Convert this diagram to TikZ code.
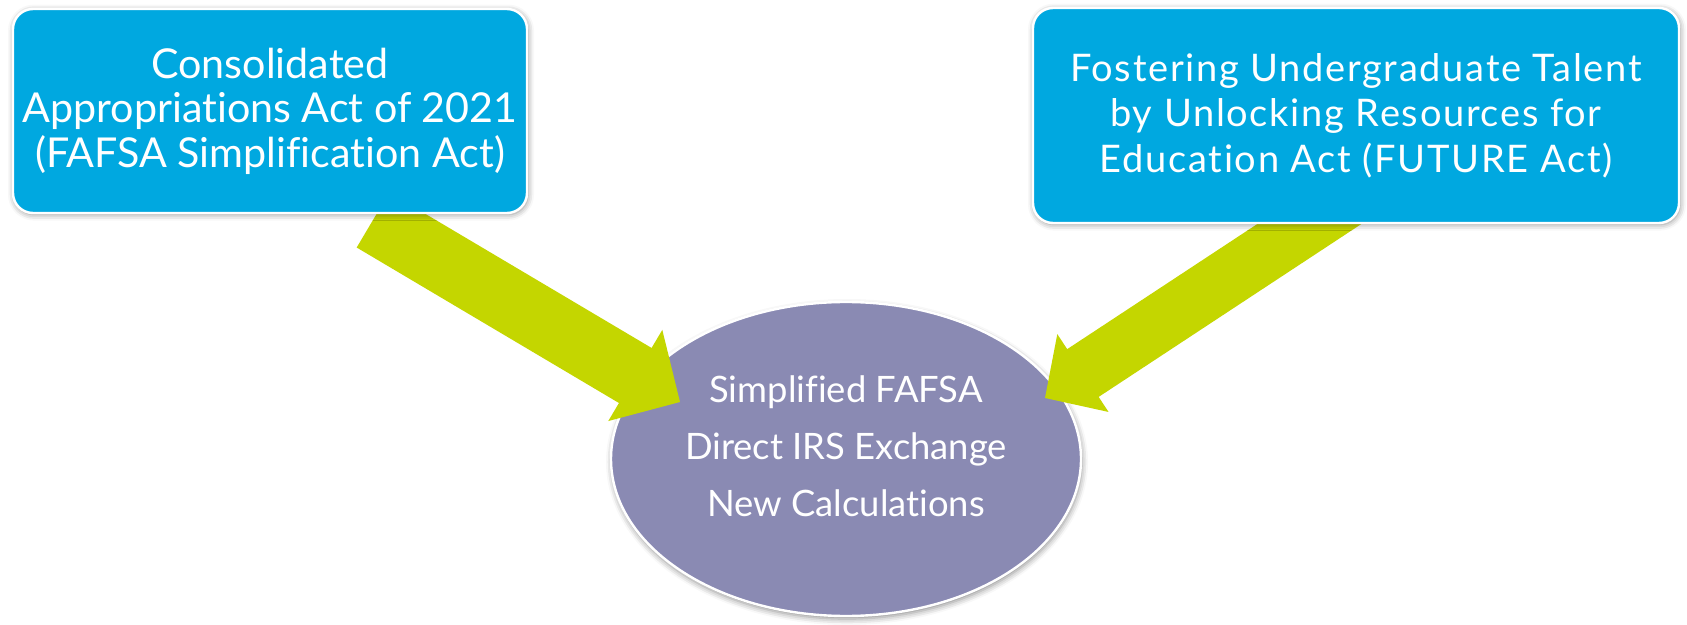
\documentclass[tikz,border=0pt]{standalone}
\usepackage{fontspec}
\setmainfont{Lato}[Ligatures=NoCommon]
\newfontfamily\spacedfont{Lato}[Ligatures=NoCommon,LetterSpace=4.5]
\usetikzlibrary{shapes.geometric,calc,shadows.blur}
\definecolor{boxblue}{RGB}{0,168,224}
\definecolor{limegreen}{RGB}{196,214,0}
\definecolor{lavender}{RGB}{138,138,179}
\begin{document}
\begin{tikzpicture}[x=0.5pt,y=-0.5pt,
  actbox/.style={rectangle, rounded corners=10pt, fill=boxblue, draw=white,
    line width=1.2pt, text=white, align=center, inner sep=0pt,
    blur shadow={shadow xshift=0.5pt, shadow yshift=-0.8pt, shadow blur radius=3pt, shadow opacity=45}},
  resell/.style={ellipse, fill=lavender, draw=white, line width=1.2pt, inner sep=0pt,
    minimum width=235pt, minimum height=157pt,
    blur shadow={shadow xshift=0.5pt, shadow yshift=-1.5pt, shadow blur radius=3pt, shadow opacity=45}},
  restext/.style={text=white, align=center, font=\fontsize{18.2}{28.5}\selectfont},
  bigarrow/.style={fill=limegreen, draw=none}]
\useasboundingbox (0,0) rectangle (1687,625);

% result ellipse
\node[resell] (res) at (846,459) {};
\node[restext] (restxt) at (846,446) {Simplified FAFSA\\Direct IRS Exchange\\New Calculations};

% left arrow
\coordinate (lt) at (373,220);
\coordinate (lp) at (680,402);
\coordinate (lh) at ($(lp)!26pt!(lt)$);
\fill[bigarrow] ($(lt)!16pt!90:(lp)$) -- ($(lh)!16pt!-90:(lt)$) -- ($(lh)!26.5pt!-90:(lt)$)
  -- (lp) -- ($(lh)!26.5pt!90:(lt)$) -- ($(lh)!16pt!90:(lt)$) -- ($(lt)!16pt!-90:(lp)$) -- cycle;

% right arrow
\coordinate (rt) at (1361,190);
\coordinate (rp) at (1045,398);
\coordinate (rh) at ($(rp)!22.7pt!(rt)$);
\fill[bigarrow] ($(rt)!14.3pt!90:(rp)$) -- ($(rh)!14.3pt!-90:(rt)$) -- ($(rh)!23.3pt!-90:(rt)$)
  -- (rp) -- ($(rh)!23.3pt!90:(rt)$) -- ($(rh)!14.3pt!90:(rt)$) -- ($(rt)!14.3pt!-90:(rp)$) -- cycle;

% boxes
\node[actbox, minimum width=257pt, minimum height=102pt, font=\fontsize{20.6}{22.3}\selectfont] (caa) at (270,111)
  {Consolidated\\Appropriations Act of 2021\\(FAFSA Simplification Act)};
\node[actbox, minimum width=323pt, minimum height=107.5pt, font=\spacedfont\fontsize{19}{22.8}\selectfont] (future) at (1356,115.5)
  {Fostering Undergraduate Talent\\by Unlocking Resources for\\Education Act (FUTURE Act)};
\end{tikzpicture}
\end{document}
